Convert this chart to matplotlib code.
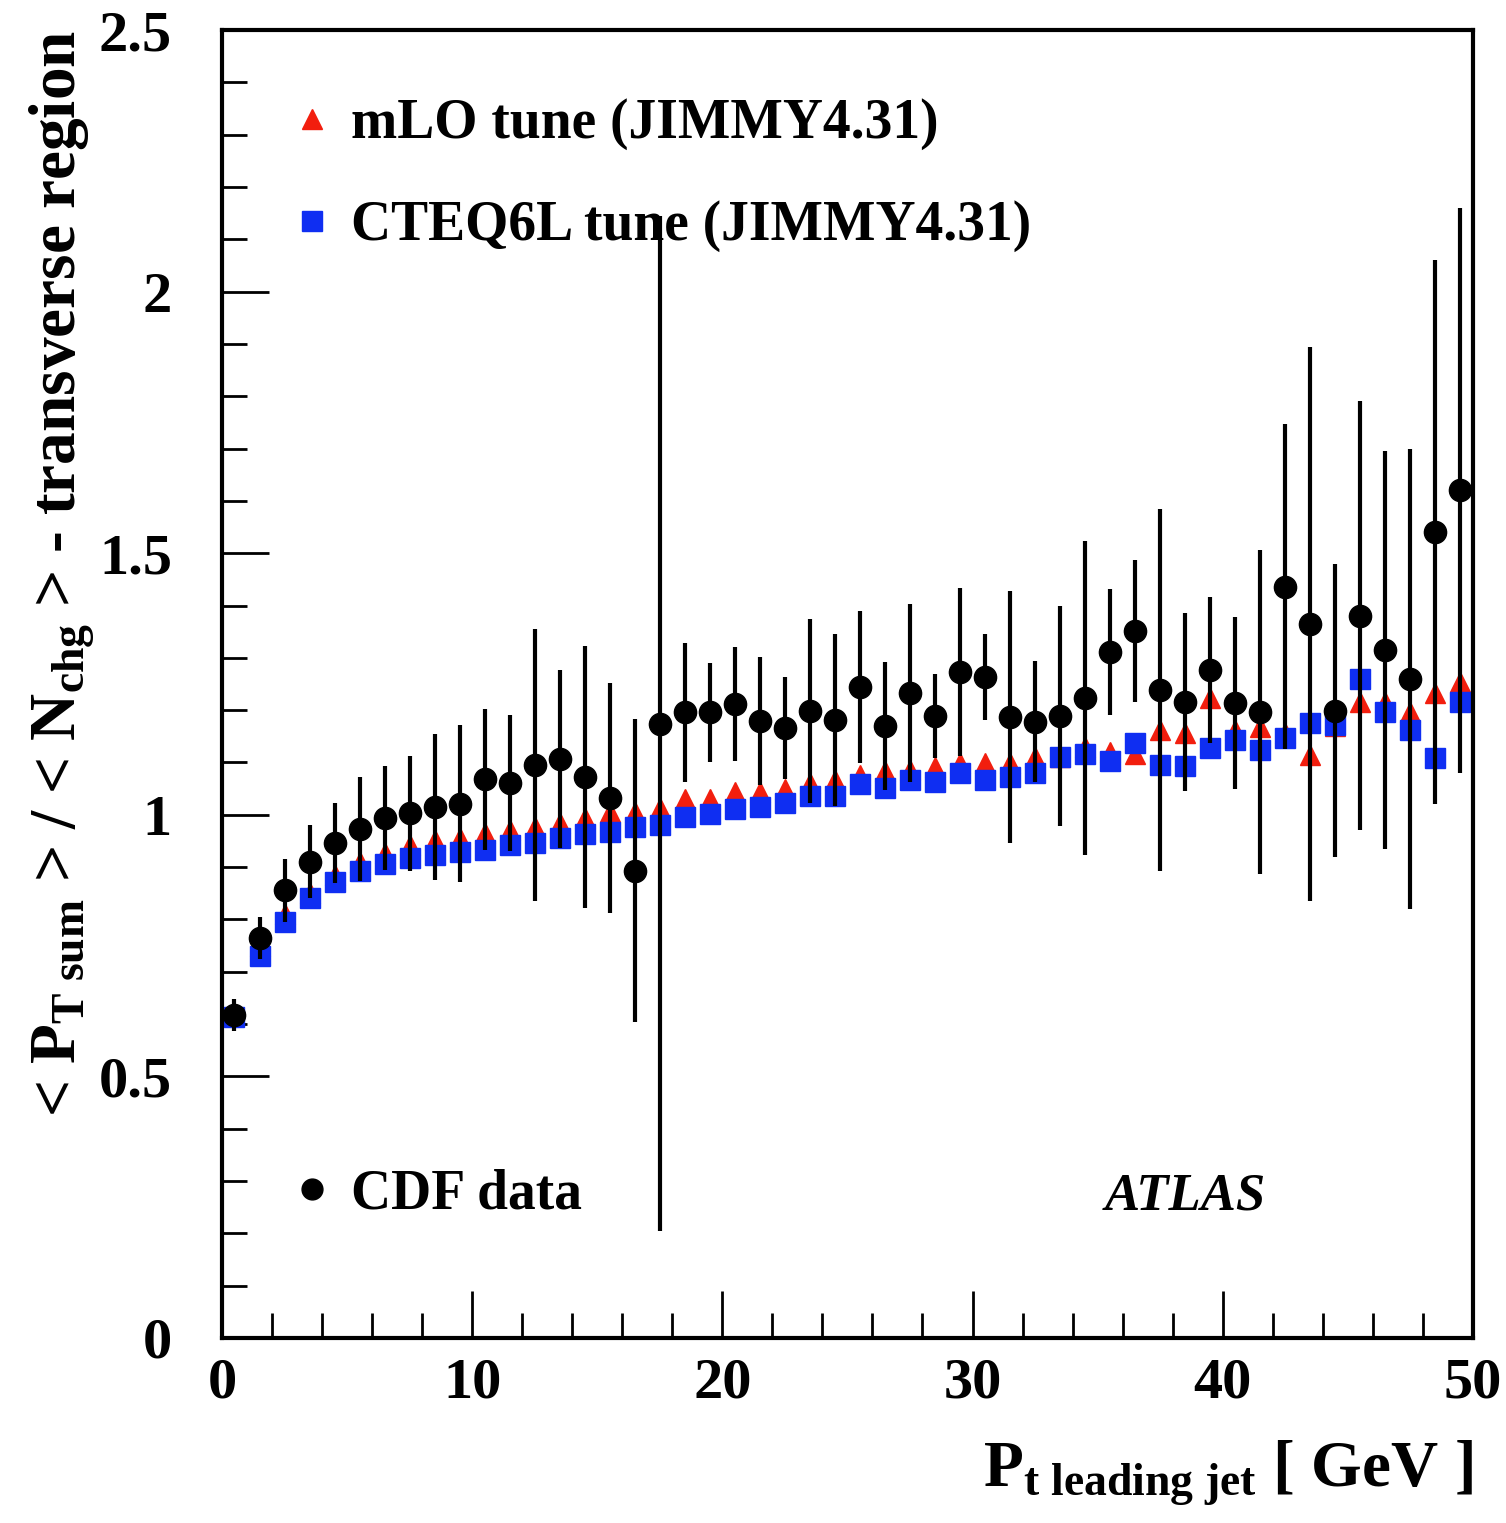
import matplotlib
matplotlib.use("Agg")
import matplotlib.pyplot as plt
from matplotlib.lines import Line2D
import numpy as np

# bin centres in GeV
pt = np.arange(0.5, 50, 1.0)

cdf_y = [0.617, 0.765, 0.856, 0.910, 0.946, 0.973, 0.994, 1.003, 1.015, 1.021,
         1.068, 1.061, 1.095, 1.107, 1.072, 1.032, 0.893, 1.174, 1.196, 1.196,
         1.212, 1.179, 1.166, 1.198, 1.181, 1.244, 1.170, 1.233, 1.189, 1.273,
         1.263, 1.187, 1.178, 1.189, 1.223, 1.311, 1.351, 1.239, 1.216, 1.277,
         1.214, 1.197, 1.436, 1.365, 1.199, 1.380, 1.315, 1.260, 1.540, 1.620]
cdf_err = [0.03, 0.04, 0.06, 0.07, 0.077, 0.10, 0.10, 0.11, 0.14, 0.15,
           0.135, 0.13, 0.26, 0.17, 0.25, 0.22, 0.29, 0.97, 0.133, 0.095,
           0.109, 0.122, 0.097, 0.176, 0.164, 0.145, 0.122, 0.17, 0.08, 0.16,
           0.082, 0.24, 0.115, 0.21, 0.30, 0.12, 0.136, 0.346, 0.17, 0.14,
           0.164, 0.31, 0.31, 0.53, 0.28, 0.41, 0.38, 0.44, 0.52, 0.54]

mlo_y = [0.620, 0.750, 0.810, 0.850, 0.885, 0.910, 0.927, 0.942, 0.952, 0.956,
         0.965, 0.971, 0.977, 0.984, 0.994, 1.006, 1.006, 1.012, 1.031, 1.031,
         1.044, 1.044, 1.049, 1.060, 1.067, 1.076, 1.084, 1.086, 1.092, 1.099,
         1.099, 1.099, 1.111, 1.110, 1.130, 1.120, 1.116, 1.162, 1.156, 1.223,
         1.162, 1.168, 1.156, 1.114, 1.170, 1.216, 1.216, 1.196, 1.233, 1.254]

cteq_y = [0.614, 0.730, 0.795, 0.841, 0.872, 0.893, 0.906, 0.917, 0.923, 0.929,
          0.933, 0.942, 0.946, 0.956, 0.963, 0.967, 0.977, 0.980, 0.995, 1.002,
          1.011, 1.015, 1.023, 1.036, 1.035, 1.059, 1.051, 1.067, 1.063, 1.080,
          1.066, 1.073, 1.080, 1.111, 1.116, 1.103, 1.137, 1.095, 1.094, 1.127,
          1.143, 1.124, 1.147, 1.175, 1.172, 1.260, 1.196, 1.162, 1.109, 1.216]

RED = "#f21e0e"
BLUE = "#0f2ef2"

plt.rcParams["font.family"] = ["Liberation Serif", "DejaVu Serif"]
plt.rcParams["font.weight"] = "bold"
plt.rcParams["mathtext.fontset"] = "custom"
plt.rcParams["mathtext.rm"] = "Liberation Serif:bold"
plt.rcParams["mathtext.it"] = "Liberation Serif:italic:bold"
plt.rcParams["mathtext.bf"] = "Liberation Serif:bold"

fig = plt.figure(figsize=(15.06, 15.23), dpi=100)
ax = fig.add_axes([0.1474, 0.1215, 0.8306, 0.8588])

ax.plot(pt, mlo_y, ls="none", marker="^", ms=15, color=RED, mec=RED)
ax.plot(pt, cteq_y, ls="none", marker="s", ms=15, color=BLUE, mec=BLUE)
ax.errorbar(pt, cdf_y, yerr=cdf_err, fmt="o", ms=16, color="black",
            ecolor="black", elinewidth=3, capsize=0)

ax.set_xlim(0, 50)
ax.set_ylim(0, 2.5)
ax.set_xticks(np.arange(0, 51, 10))
ax.set_xticks(np.arange(0, 51, 2), minor=True)
ax.set_yticks(np.arange(0, 2.51, 0.5))
ax.set_yticks(np.arange(0, 2.51, 0.1), minor=True)
ax.set_xticklabels(["0", "10", "20", "30", "40", "50"])
ax.set_yticklabels(["0", "0.5", "1", "1.5", "2", "2.5"])
ax.tick_params(which="both", direction="in", top=False, right=False, width=2)
ax.tick_params(which="major", length=34, labelsize=42)
ax.tick_params(which="minor", length=18)
ax.tick_params(axis="x", which="major", pad=14)
ax.tick_params(axis="y", which="major", pad=36)
for lab in ax.get_xticklabels() + ax.get_yticklabels():
    lab.set_fontweight("bold")
for s in ax.spines.values():
    s.set_linewidth(3)

ax.set_ylabel(r"< P$_{\mathrm{T\ sum}}$ > / < N$_{\mathrm{chg}}$ > - transverse region",
              fontsize=47, fontweight="bold", loc="top")
ax.yaxis.set_label_coords(-0.10, 1.0)
ax.set_xlabel(r"P$_{\mathrm{t\ leading\ jet}}$ [ GeV ]",
              fontsize=47, fontweight="bold", loc="right")
ax.xaxis.set_label_coords(1.0, -0.077)

ax.text(38.5, 0.27, "ATLAS", fontsize=38, fontweight="bold", style="italic",
        ha="center", va="center")

h_mlo = Line2D([], [], ls="none", marker="^", ms=15, color=RED)
h_cteq = Line2D([], [], ls="none", marker="s", ms=15, color=BLUE)
h_cdf = Line2D([], [], ls="none", marker="o", ms=15, color="black")

leg1 = ax.legend([h_mlo, h_cteq], ["mLO tune (JIMMY4.31)", "CTEQ6L tune (JIMMY4.31)"],
                 loc="upper left", bbox_to_anchor=(0.032, 0.965), frameon=False,
                 prop={"size": 40, "weight": "bold"}, labelspacing=0.9,
                 handlelength=1.0, handletextpad=0.2, borderaxespad=0)
ax.add_artist(leg1)
ax.legend([h_cdf], ["CDF data"], loc="lower left", bbox_to_anchor=(0.032, 0.073),
          frameon=False, prop={"size": 40, "weight": "bold"},
          handlelength=1.0, handletextpad=0.2, borderaxespad=0)

fig.savefig("out.png", dpi=100)
